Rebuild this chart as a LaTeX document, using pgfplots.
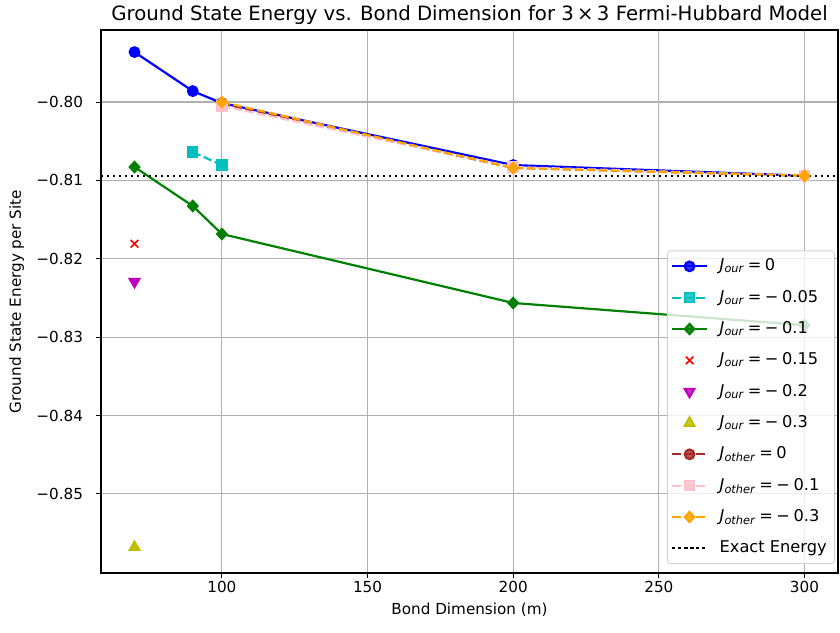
\documentclass[border=0pt]{standalone}
\usepackage{fontspec}
\setmainfont{DejaVu Sans}
\usepackage{pgfplots}
\pgfplotsset{compat=1.18}

\definecolor{mplc}{rgb}{0,0.75,0.75}
\definecolor{mplg}{rgb}{0,0.5,0}
\definecolor{mplm}{rgb}{0.75,0,0.75}
\definecolor{mply}{rgb}{0.75,0.75,0}
\definecolor{mplbrown}{rgb}{0.647,0.165,0.165}
\definecolor{mplpink}{rgb}{1,0.753,0.796}
\definecolor{mplorange}{rgb}{1,0.647,0}
\definecolor{gridgray}{rgb}{0.69,0.69,0.69}

\newcommand{\gap}{\hspace{0.22em}}
\newcommand{\Jo}[1]{{\itshape J}\textsubscript{\itshape our}\gap=\gap#1}
\newcommand{\Jt}[1]{{\itshape J}\textsubscript{\itshape other}\gap=\gap#1}

\begin{document}
\begin{tikzpicture}
\begin{axis}[
    name=ax,
    scale only axis,
    width=368.5pt,
    height=271.5pt,
    xmin=58.5, xmax=311.5,
    ymin=-0.8601, ymax=-0.7908,
    xtick={100,150,200,250,300},
    xticklabels={100,150,200,250,300},
    ytick={-0.85,-0.84,-0.83,-0.82,-0.81,-0.80},
    yticklabels={−0.85,−0.84,−0.83,−0.82,−0.81,−0.80},
    xtick pos=left, ytick pos=left,
    tick align=outside,
    major tick length=2.5pt,
    tick style={black, line width=0.4pt},
    axis line style={line width=0.6pt},
    grid=major,
    grid style={gridgray, line width=0.6pt},
    tick label style={font=\fontsize{7.6}{9}\selectfont},
    xticklabel style={yshift=2pt},
    yticklabel style={xshift=-3pt},
    label style={font=\fontsize{7.6}{9}\selectfont},
    xlabel style={yshift=1.5pt},
    ylabel style={yshift=-0.7pt},
    title style={font=\fontsize{9.85}{12}\selectfont, yshift=-7pt},
    title={Ground State Energy vs. Bond Dimension for 3\,×\,3 Fermi-Hubbard Model},
    xlabel={Bond Dimension (m)},
    ylabel={Ground State Energy per Site},
    legend cell align=left,
    legend style={font=\fontsize{8.1}{9.5}\selectfont, at={(1,0)}, anchor=south east,
        xshift=-1.5pt, yshift=4.5pt, draw=gray!35, rounded corners=1.5pt,
        fill=white, fill opacity=0.8, text opacity=1, row sep=4.15pt,
        inner sep=2pt, /tikz/every odd column/.append style={column sep=4pt}},
    every axis plot/.append style={line width=1.1pt},
    every mark/.append style={line width=0.6pt},
]
\addplot[blue, mark=*, mark size=2.4pt] coordinates {
(70,-0.79362)(90,-0.79860)(100,-0.80013)(200,-0.80804)(300,-0.80940)
};
\addlegendentry{\Jo{0}}
\addplot[mplc, dash pattern=on 4.2pt off 1.8pt, mark=square*, mark size=2.3pt, mark options={solid}] coordinates {
(90,-0.80638)(100,-0.80804)
};
\addlegendentry{\Jo{−\gap0.05}}
\addplot[mplg, mark=diamond*, mark size=2.5pt, mark options={xscale=1.25}] coordinates {
(70,-0.80829)(90,-0.81326)(100,-0.81684)(200,-0.82564)(300,-0.82847)
};
\addlegendentry{\Jo{−\gap0.1}}
\addplot[red, only marks, mark=x, mark size=2.7pt, mark options={line width=0.8pt}] coordinates {
(70,-0.81809)
};
\addlegendentry{\Jo{−\gap0.15}}
\addplot[mplm, only marks, mark=triangle*, mark size=2.7pt, mark options={rotate=180}] coordinates {
(70,-0.82293)
};
\addlegendentry{\Jo{−\gap0.2}}
\addplot[mply, only marks, mark=triangle*, mark size=2.7pt] coordinates {
(70,-0.85680)
};
\addlegendentry{\Jo{−\gap0.3}}
\addplot[mplbrown, dash pattern=on 4.2pt off 1.8pt, mark=*, mark size=2.4pt, mark options={solid}] coordinates {
(100,-0.80020)(200,-0.80840)(300,-0.80940)
};
\addlegendentry{\Jt{0}}
\addplot[mplpink, dash pattern=on 4.2pt off 1.8pt, mark=square*, mark size=2.3pt, mark options={solid}] coordinates {
(100,-0.80050)(200,-0.80830)(300,-0.80940)
};
\addlegendentry{\Jt{−\gap0.1}}
\addplot[mplorange, dash pattern=on 4.2pt off 1.8pt, mark=diamond*, mark size=2.5pt, mark options={solid, xscale=1.25}] coordinates {
(100,-0.80000)(200,-0.80840)(300,-0.80940)
};
\addlegendentry{\Jt{−\gap0.3}}
\addplot[black, dash pattern=on 1.1pt off 1.9pt] coordinates {
(58.5,-0.8094)(311.5,-0.8094)
};
\addlegendentry{Exact Energy}
\end{axis}
\pgfresetboundingbox
\path ([xshift=-50.5pt,yshift=-30pt]ax.south west) rectangle ([xshift=1pt,yshift=15pt]ax.north east);
\end{tikzpicture}
\end{document}
